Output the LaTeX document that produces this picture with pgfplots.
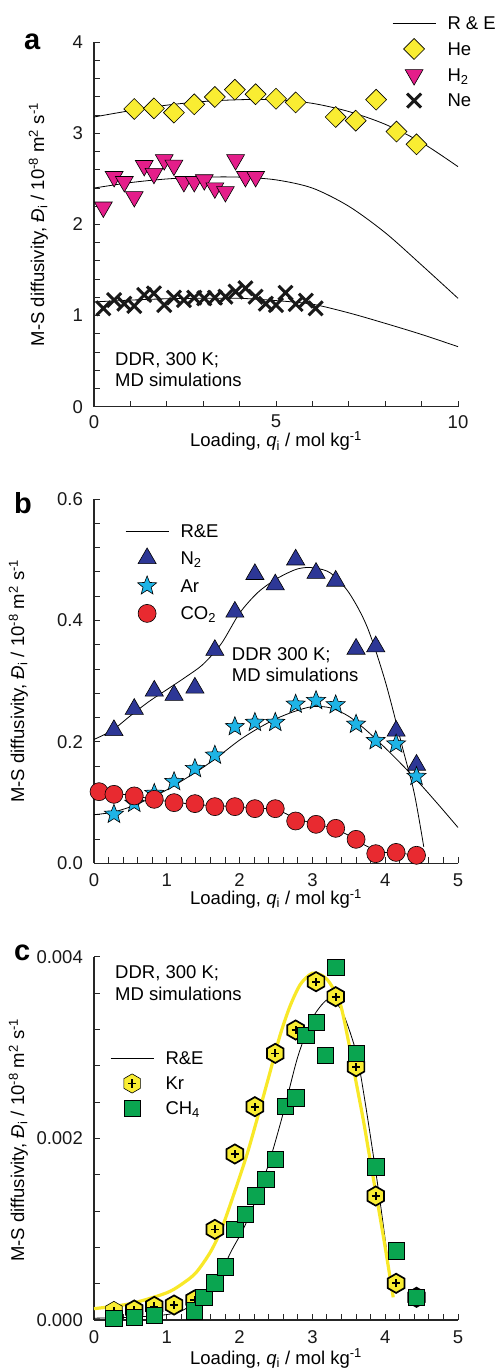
\documentclass[border=0pt]{standalone}
\usepackage{fontspec}
\setmainfont{Liberation Sans}
\usepackage{pgfplots}
\pgfplotsset{compat=1.18}
\usetikzlibrary{plotmarks}

\definecolor{cyel}{RGB}{249,237,50}
\definecolor{cmag}{RGB}{228,30,138}
\definecolor{cnavy}{RGB}{45,55,150}
\definecolor{ccyan}{RGB}{30,180,230}
\definecolor{cred}{RGB}{232,42,48}
\definecolor{cgreen}{RGB}{10,165,80}
\definecolor{cyline}{RGB}{248,232,40}

\newcommand{\fs}{\fontsize{18.5pt}{22pt}\selectfont}

\pgfdeclareplotmark{hexplus}{%
 \pgfpathmoveto{\pgfqpoint{0pt}{\pgfplotmarksize}}%
 \pgfpathlineto{\pgfqpoint{0.866\pgfplotmarksize}{0.5\pgfplotmarksize}}%
 \pgfpathlineto{\pgfqpoint{0.866\pgfplotmarksize}{-0.5\pgfplotmarksize}}%
 \pgfpathlineto{\pgfqpoint{0pt}{-\pgfplotmarksize}}%
 \pgfpathlineto{\pgfqpoint{-0.866\pgfplotmarksize}{-0.5\pgfplotmarksize}}%
 \pgfpathlineto{\pgfqpoint{-0.866\pgfplotmarksize}{0.5\pgfplotmarksize}}%
 \pgfpathclose
 \pgfusepathqfillstroke
 \pgfsetlinewidth{1.7pt}%
 \pgfpathmoveto{\pgfqpoint{-0.42\pgfplotmarksize}{0pt}}%
 \pgfpathlineto{\pgfqpoint{0.42\pgfplotmarksize}{0pt}}%
 \pgfpathmoveto{\pgfqpoint{0pt}{-0.42\pgfplotmarksize}}%
 \pgfpathlineto{\pgfqpoint{0pt}{0.42\pgfplotmarksize}}%
 \pgfusepathqstroke
}
\pgfdeclareplotmark{fstar}{%
 \pgfpathmoveto{\pgfqpointpolar{90}{\pgfplotmarksize}}%
 \pgfpathlineto{\pgfqpointpolar{126}{0.43\pgfplotmarksize}}%
 \pgfpathlineto{\pgfqpointpolar{162}{\pgfplotmarksize}}%
 \pgfpathlineto{\pgfqpointpolar{198}{0.43\pgfplotmarksize}}%
 \pgfpathlineto{\pgfqpointpolar{234}{\pgfplotmarksize}}%
 \pgfpathlineto{\pgfqpointpolar{270}{0.43\pgfplotmarksize}}%
 \pgfpathlineto{\pgfqpointpolar{306}{\pgfplotmarksize}}%
 \pgfpathlineto{\pgfqpointpolar{342}{0.43\pgfplotmarksize}}%
 \pgfpathlineto{\pgfqpointpolar{18}{\pgfplotmarksize}}%
 \pgfpathlineto{\pgfqpointpolar{54}{0.43\pgfplotmarksize}}%
 \pgfpathclose
 \pgfusepathqfillstroke
}
\pgfdeclareplotmark{xx}{%
 \pgfpathmoveto{\pgfqpoint{-\pgfplotmarksize}{-\pgfplotmarksize}}%
 \pgfpathlineto{\pgfqpoint{\pgfplotmarksize}{\pgfplotmarksize}}%
 \pgfpathmoveto{\pgfqpoint{-\pgfplotmarksize}{\pgfplotmarksize}}%
 \pgfpathlineto{\pgfqpoint{\pgfplotmarksize}{-\pgfplotmarksize}}%
 \pgfusepathqstroke
}

\pgfplotsset{
 legend image code/.code={\draw[mark repeat=2,mark phase=2,#1] plot coordinates {(0pt,0pt) (21.5pt,0pt) (43pt,0pt)};},
 myax/.style={
  scale only axis, width=364pt,
  axis lines=left, axis line style={-, line width=1.1pt, black!85},
  tick align=inside, major tick length=6pt, minor tick length=6pt,
  tick style={line width=1pt, black!85},
  /pgf/number format/assume math mode=true,
  every tick label/.append style={font=\fs, inner sep=0pt, text=black!90},
  yticklabel style={xshift=-11pt},
  label style={font=\fs},
  clip=false,
  legend cell align=left,
  legend style={draw=none, fill=none, font=\fs, inner xsep=0pt, inner ysep=0pt,
    anchor=north west, column sep=11.5pt,
    nodes={inner sep=0pt, text height=17pt, text depth=4.5pt}},
 },
 crv/.style={black, line width=0.8pt, smooth, forget plot},
 mHe/.style={only marks, mark=square*, mark size=7.4pt, mark options={rotate=45, fill=cyel, draw=black, line width=0.6pt}},
 mH/.style={only marks, mark=triangle*, mark size=10.3pt, mark options={rotate=180, fill=cmag, draw=black, line width=0.6pt}},
 mNe/.style={only marks, mark=xx, mark size=7pt, mark options={draw=black!90, line width=3pt}},
 mN/.style={only marks, mark=triangle*, mark size=10.5pt, mark options={fill=cnavy, draw=black, line width=0.6pt}},
 mAr/.style={only marks, mark=fstar, mark size=10pt, mark options={fill=ccyan, draw=black, line width=0.6pt}},
 mCO/.style={only marks, mark=*, mark size=9pt, mark options={fill=cred, draw=black, line width=0.6pt}},
 mKr/.style={only marks, mark=hexplus, mark size=9.6pt, mark options={fill=cyel, draw=black, line width=0.6pt}},
 mCH/.style={only marks, mark=square*, mark size=8.2pt, mark options={fill=cgreen, draw=black, line width=0.6pt}},
}

\newcommand{\ylab}{M-S diffusivity, \textit{Đ}\textsubscript{i} / 10\textsuperscript{-8} m\textsuperscript{2} s\textsuperscript{-1}}
\newcommand{\xlab}{Loading, \textit{q}\textsubscript{i} / mol kg\textsuperscript{-1}}

\begin{document}
\begin{tikzpicture}[x=1pt,y=1pt]
\useasboundingbox (0,0) rectangle (497,-1368);

% ---------------- panel a
\begin{axis}[myax, at={(94pt,-406.7pt)}, anchor=south west, height=364.4pt,
 xmin=0, xmax=10, ymin=0, ymax=4,
 xtick={0,5,10}, minor x tick num=4, ytick={0,1,2,3,4}, minor y tick num=4,
 xticklabel style={yshift=-8.3pt},
 xlabel={\xlab}, ylabel={\ylab},
 xlabel style={at={(axis description cs:0.5,-0.1098)}, anchor=base},
 ylabel style={at={(axis description cs:-0.153,0.5)}, anchor=center},
 legend style={at={(axis description cs:0.8187,1.0825)}, row sep=4.3pt},
]
\addplot[crv] coordinates {(0,3.18)(1,3.25)(2,3.31)(3,3.35)(4,3.37)(5,3.37)(6,3.33)(7,3.24)(8,3.10)(9,2.90)(10,2.635)};
\addplot[crv] coordinates {(0,2.40)(1,2.46)(2,2.50)(3,2.52)(4,2.52)(5,2.49)(6,2.40)(7,2.20)(8,1.91)(9,1.555)(10,1.19)};
\addplot[crv] coordinates {(0,1.15)(1,1.17)(2,1.185)(3,1.19)(4,1.19)(5,1.165)(6,1.125)(7,1.03)(8,0.915)(9,0.793)(10,0.659)};
\addplot[mHe, forget plot] coordinates {
(1.107,3.268)(1.647,3.275)(2.196,3.228)(2.754,3.319)(3.32,3.40)(3.87,3.48)(4.44,3.43)(5.0,3.38)(5.54,3.34)(6.64,3.18)(7.19,3.14)(7.75,3.37)(8.31,3.02)(8.86,2.88)};
\addplot[mH, forget plot] coordinates {
(0.256,2.19)(0.553,2.525)(0.833,2.47)(1.107,2.305)(1.38,2.646)(1.647,2.56)(1.93,2.71)(2.196,2.65)(2.47,2.47)(2.754,2.47)(3.03,2.49)(3.32,2.40)(3.61,2.36)(3.89,2.71)(4.16,2.525)(4.44,2.525)};
\addplot[mNe, forget plot] coordinates {
(0.256,1.08)(0.553,1.17)(0.833,1.13)(1.107,1.105)(1.38,1.226)(1.647,1.244)(1.93,1.116)(2.196,1.197)(2.47,1.17)(2.754,1.197)(3.03,1.19)(3.32,1.197)(3.61,1.207)(3.89,1.263)(4.16,1.30)(4.44,1.207)(4.72,1.13)(5.0,1.116)(5.26,1.25)(5.54,1.127)(5.82,1.164)(6.09,1.08)};
\addlegendimage{black, line width=0.8pt}
\addlegendentry{R \& E}
\addlegendimage{mHe}
\addlegendentry{He}
\addlegendimage{mH}
\addlegendentry{H\textsubscript{2}}
\addlegendimage{mNe}
\addlegendentry{Ne}
\end{axis}

% ---------------- panel b
\begin{axis}[myax, at={(94pt,-863.3pt)}, anchor=south west, height=364.3pt,
 xmin=0, xmax=5, ymin=0, ymax=0.6,
 xtick={0,1,2,3,4,5}, minor x tick num=4, ytick={0,0.2,0.4,0.6}, minor y tick num=4,
 yticklabel style={/pgf/number format/fixed, /pgf/number format/precision=1, /pgf/number format/fixed zerofill},
 xticklabel style={yshift=-10pt},
 xlabel={\xlab}, ylabel={\ylab},
 xlabel style={at={(axis description cs:0.5,-0.1125)}, anchor=base},
 ylabel style={at={(axis description cs:-0.208,0.5)}, anchor=center},
 legend style={at={(axis description cs:0.0852,0.9425)}, row sep=6pt},
]
\addplot[crv] coordinates {(0,0.204)(0.25,0.219)(0.5,0.243)(0.75,0.266)(1.0,0.286)(1.25,0.306)(1.5,0.328)(1.75,0.362)(2.0,0.412)(2.25,0.446)(2.5,0.468)(2.75,0.483)(2.9,0.487)(3.05,0.486)(3.25,0.478)(3.5,0.446)(3.75,0.39)(4.0,0.30)(4.25,0.185)(4.4,0.115)(4.53,0.027)};
\addplot[crv] coordinates {(0,0.08)(0.25,0.084)(0.5,0.093)(0.75,0.106)(1.0,0.121)(1.25,0.139)(1.5,0.158)(1.75,0.18)(2.0,0.203)(2.25,0.222)(2.5,0.238)(2.75,0.25)(3.0,0.258)(3.25,0.256)(3.5,0.242)(3.75,0.218)(4.0,0.19)(4.25,0.16)(4.5,0.128)(4.75,0.094)(5.0,0.059)};
\addplot[crv] coordinates {(0.07,0.118)(0.5,0.112)(1.0,0.102)(1.5,0.096)(2.0,0.093)(2.5,0.088)(2.75,0.075)(3.0,0.066)(3.25,0.059)(3.5,0.046)(3.75,0.028)(4.0,0.018)(4.25,0.016)(4.43,0.013)};
\addplot[mN, forget plot] coordinates {
(0.274,0.219)(0.553,0.254)(0.828,0.284)(1.10,0.277)(1.386,0.289)(1.66,0.351)(1.935,0.414)(2.21,0.476)(2.49,0.459)(2.77,0.500)(3.05,0.478)(3.32,0.465)(3.60,0.353)(3.87,0.357)(4.15,0.218)(4.43,0.162)};
\addplot[mAr, forget plot] coordinates {
(0.274,0.0807)(0.553,0.0988)(0.828,0.115)(1.10,0.1345)(1.386,0.156)(1.66,0.178)(1.935,0.225)(2.21,0.232)(2.49,0.232)(2.77,0.262)(3.05,0.268)(3.32,0.261)(3.60,0.229)(3.87,0.202)(4.15,0.1965)(4.43,0.143)};
\addplot[mCO, forget plot] coordinates {
(0.069,0.118)(0.274,0.1136)(0.553,0.111)(0.828,0.1054)(1.10,0.0999)(1.386,0.0983)(1.66,0.0933)(1.935,0.0933)(2.21,0.090)(2.49,0.090)(2.77,0.0697)(3.05,0.0642)(3.32,0.0576)(3.60,0.0395)(3.87,0.0159)(4.15,0.018)(4.43,0.0132)};
\addlegendimage{black, line width=0.8pt}
\addlegendentry{R\&E}
\addlegendimage{mN}
\addlegendentry{N\textsubscript{2}}
\addlegendimage{mAr}
\addlegendentry{Ar}
\addlegendimage{mCO}
\addlegendentry{CO\textsubscript{2}}
\end{axis}

% ---------------- panel c
\begin{axis}[myax, at={(94pt,-1320pt)}, anchor=south west, height=363.3pt,
 xmin=0, xmax=5, ymin=0, ymax=0.004,
 xtick={0,1,2,3,4,5}, minor x tick num=4, ytick={0,0.002,0.004}, minor y tick num=4,
 scaled y ticks=false,
 yticklabel style={/pgf/number format/fixed, /pgf/number format/precision=3, /pgf/number format/fixed zerofill},
 xticklabel style={yshift=-10.7pt},
 xlabel={\xlab}, ylabel={\ylab},
 xlabel style={at={(axis description cs:0.5,-0.1211)}, anchor=base},
 ylabel style={at={(axis description cs:-0.208,0.495)}, anchor=center},
 legend style={at={(axis description cs:0.044,0.750)}, row sep=3.5pt},
]
\addplot[crv] coordinates {(0,0.00002)(0.5,0.00003)(1.0,0.00006)(1.25,0.00012)(1.5,0.0003)(1.75,0.00055)(1.9,0.00078)(2.05,0.001)(2.2,0.00128)(2.4,0.00172)(2.6,0.00228)(2.8,0.0029)(3.0,0.00332)(3.19,0.00352)(3.3,0.0035)(3.42,0.00338)(3.6,0.00295)(3.72,0.00242)(3.92,0.00136)(4.09,0.00033)};
\addplot[mKr, forget plot] coordinates {
(0.274,0.0001)(0.553,0.00011)(0.828,0.00015)(1.10,0.000165)(1.38,0.00022)(1.66,0.000998)(1.935,0.001828)(2.21,0.002349)(2.49,0.002936)(2.77,0.003193)(3.05,0.003725)(3.32,0.00356)(3.60,0.002789)(3.87,0.001365)(4.15,0.000404)(4.43,0.00025)};
\addplot[cyline, line width=3.2pt, smooth, forget plot] coordinates {(0,0.000125)(0.5,0.00018)(1.0,0.0003)(1.25,0.00042)(1.41,0.00053)(1.6,0.00075)(1.75,0.001)(1.91,0.00136)(2.1,0.00182)(2.25,0.00224)(2.415,0.00272)(2.55,0.00312)(2.69,0.00345)(2.83,0.00369)(2.96,0.0038)(3.03,0.00382)(3.14,0.00379)(3.24,0.00371)(3.38,0.00349)(3.5,0.00305)(3.6,0.00262)(3.7,0.0022)(3.8,0.00173)(3.9,0.00127)(4.0,0.0008)(4.11,0.00025)};
\addplot[mCH, forget plot] coordinates {
(0.274,0.00002)(0.553,0.00003)(0.828,0.000055)(1.38,0.0001)(1.51,0.00025)(1.66,0.00041)(1.80,0.000587)(1.935,0.000998)(2.08,0.001167)(2.22,0.001369)(2.36,0.001552)(2.49,0.001769)(2.63,0.002356)(2.77,0.002448)(2.91,0.003138)(3.05,0.003277)(3.18,0.002917)(3.32,0.003883)(3.60,0.002936)(3.87,0.001688)(4.15,0.000763)(4.43,0.00025)};
\addlegendimage{black, line width=0.8pt}
\addlegendentry{R\&E}
\addlegendimage{mKr}
\addlegendentry{Kr}
\addlegendimage{mCH}
\addlegendentry{CH\textsubscript{4}}
\end{axis}

% ---------------- annotations
\begin{scope}[every node/.style={anchor=base west, inner sep=0pt, font=\fs}]
\node at (115,-365) {DDR, 300 K;};
\node at (115,-386.7) {MD simulations};
\node at (231.7,-660) {DDR 300 K;};
\node at (231.7,-681.7) {MD simulations};
\node at (115,-978.3) {DDR, 300 K;};
\node at (115,-1000) {MD simulations};
\end{scope}
\begin{scope}[every node/.style={anchor=base west, inner sep=0pt, font=\fontsize{29pt}{30pt}\selectfont\bfseries}]
\node at (24,-49.3) {a};
\node at (14,-513.3) {b};
\node at (14,-960) {c};
\end{scope}
\end{tikzpicture}
\end{document}
